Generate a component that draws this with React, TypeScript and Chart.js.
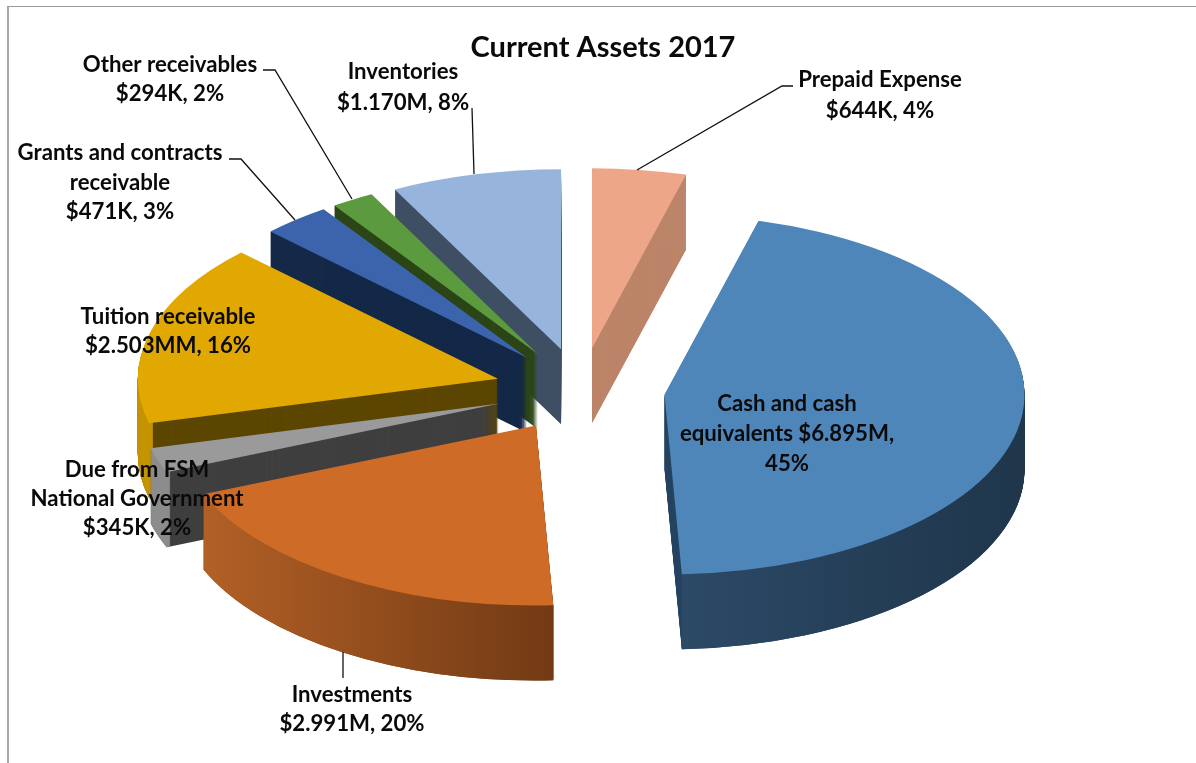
import React, { useEffect, useRef } from "react";
import { Chart, registerables } from "chart.js";

Chart.register(...registerables);

// ---- data -------------------------------------------------------------
const titleText = "Current Assets 2017";
const categories = [
  "Prepaid Expense",
  "Cash and cash equivalents",
  "Investments",
  "Due from FSM National Government",
  "Tuition receivable",
  "Grants and contracts receivable",
  "Other receivables",
  "Inventories",
];
const valuesK = [644, 6895, 2991, 345, 2503, 471, 294, 1170];
const labelLines = [
  ["Prepaid Expense", "$644K, 4%"],
  ["Cash and cash", "equivalents $6.895M,", "45%"],
  ["Investments", "$2.991M, 20%"],
  ["Due from FSM", "National Government", "$345K, 2%"],
  ["Tuition receivable", "$2.503MM, 16%"],
  ["Grants and contracts", "receivable", "$471K, 3%"],
  ["Other receivables", "$294K, 2%"],
  ["Inventories", "$1.170M, 8%"],
];

// ---- styles -----------------------------------------------------------
const topColors = ["#EEA688", "#4F86BA", "#CE6C27", "#9A9A9A", "#E0A800", "#3B64AD", "#5B9A3E", "#97B5DC"];
const faceColors = ["#BC8468", "#274562", "#7A3E15", "#3F3F3F", "#5C4600", "#142848", "#2B4516", "#3F4F63"];
const wallLeft = ["#BC8468", "#2C4966", "#B26026", "#8C8C8C", "#C59300", "#142848", "#2B4516", "#3F4F63"];
const wallRight = ["#BC8468", "#1F364B", "#723A14", "#8C8C8C", "#C59300", "#142848", "#2B4516", "#3F4F63"];
const paintOrder = [7, 0, 6, 5, 4, 3, 2, 1];

// ---- layout -----------------------------------------------------------
const W = 1196;
const H = 763;
const FONT = "Lato, 'Open Sans', sans-serif";
const CX = 581;
const CY = 390;
const RADIUS = 360;
const SQUASH = 0.5;
const DEPTH = 75;
const LABEL_SIZE = 22.2;
const sliceExplode = [84, 84, 84, 86, 86, 84, 84, 84];
const labelCenters = [
  [880, 80, 31],
  [787, 404, 30],
  [352, 695, 29],
  [137, 470, 29],
  [168, 317, 29],
  [120, 153, 29.5],
  [170, 65, 29],
  [403, 72, 31],
];
const leaderLines = [
  [[793, 86], [782, 86], [637, 170]],
  [[263, 70], [275, 70], [352, 199]],
  [[229, 159], [241, 159], [295, 220]],
  [[472, 108], [474, 174]],
  [[343, 652], [343, 678]],
];

const pie3d = {
  id: "pie3d",
  beforeDatasetsDraw(chart: any) {
    const { ctx } = chart;
    const arcs = chart.getDatasetMeta(0).data;
    paintOrder.forEach((i) => {
      const el = arcs[i];
      const original = el.options;
      const inner = el.innerRadius;
      const mid = (el.startAngle + el.endAngle) / 2;
      const place = (drop: number) => {
        ctx.save();
        ctx.translate(CX, CY + drop);
        ctx.scale(1, SQUASH);
        ctx.translate(-el.x, -el.y);
        ctx.translate(Math.cos(mid) * sliceExplode[i], Math.sin(mid) * sliceExplode[i]);
      };
      // the cut faces: the whole wedge swept downwards
      el.options = { ...original, backgroundColor: faceColors[i] };
      for (let d = DEPTH; d >= 1; d--) {
        place(d);
        el.draw(ctx);
        ctx.restore();
      }
      // the rounded outer wall: only the rim swept downwards
      let lo = 1;
      let hi = -1;
      for (let t = 0; t <= 40; t++) {
        const c = Math.cos(el.startAngle + ((el.endAngle - el.startAngle) * t) / 40);
        lo = Math.min(lo, c);
        hi = Math.max(hi, c);
      }
      const g = ctx.createLinearGradient(el.x + lo * RADIUS, 0, el.x + hi * RADIUS, 0);
      g.addColorStop(0, wallLeft[i]);
      g.addColorStop(1, wallRight[i]);
      el.options = { ...original, backgroundColor: g };
      el.innerRadius = RADIUS - 4;
      for (let d = DEPTH; d >= 1; d--) {
        place(d);
        el.draw(ctx);
        ctx.restore();
      }
      el.innerRadius = inner;
      // the top surface
      el.options = original;
      place(0);
      el.draw(ctx);
      ctx.restore();
    });
    return false;
  },
  afterDraw(chart: any) {
    const { ctx } = chart;
    ctx.save();
    ctx.strokeStyle = "#111111";
    ctx.lineWidth = 1.3;
    leaderLines.forEach((pts) => {
      ctx.beginPath();
      pts.forEach(([x, y], k) => (k ? ctx.lineTo(x, y) : ctx.moveTo(x, y)));
      ctx.stroke();
    });
    ctx.fillStyle = "#0A0A0A";
    ctx.textAlign = "center";
    ctx.textBaseline = "middle";
    ctx.font = `bold ${LABEL_SIZE}px ${FONT}`;
    labelLines.forEach((lines, i) => {
      const [x, y, step] = labelCenters[i];
      lines.forEach((line, k) => ctx.fillText(line, x, y + k * step));
    });
    ctx.restore();
  },
};

export default function App() {
  const ref = useRef<HTMLCanvasElement>(null);
  useEffect(() => {
    document.body.style.margin = "0";
    document.body.style.overflow = "hidden";
    const chart = new Chart(ref.current as HTMLCanvasElement, {
      type: "pie",
      data: {
        labels: categories,
        datasets: [{ data: valuesK, backgroundColor: topColors, borderWidth: 0 }],
      },
      options: {
        responsive: false,
        animation: false,
        radius: RADIUS,
        layout: { padding: { left: 10, top: 20 } },
        plugins: {
          legend: { display: false },
          tooltip: { enabled: false },
          title: {
            display: true,
            text: titleText,
            color: "#0A0A0A",
            font: { family: FONT, size: 29, weight: "bold" },
          },
        },
      } as any,
      plugins: [pie3d as any],
    });
    return () => chart.destroy();
  }, []);
  return (
    <div style={{ position: "relative", width: W, height: H, overflow: "hidden", background: "#fff" }}>
      <canvas ref={ref} width={W} height={H} style={{ display: "block" }} />
      <div
        style={{
          position: "absolute",
          left: 7,
          top: 6,
          right: 0,
          bottom: 0,
          borderTop: "1px solid #9A9A9A",
          borderLeft: "2px solid #A8A8A8",
        }}
      />
    </div>
  );
}
